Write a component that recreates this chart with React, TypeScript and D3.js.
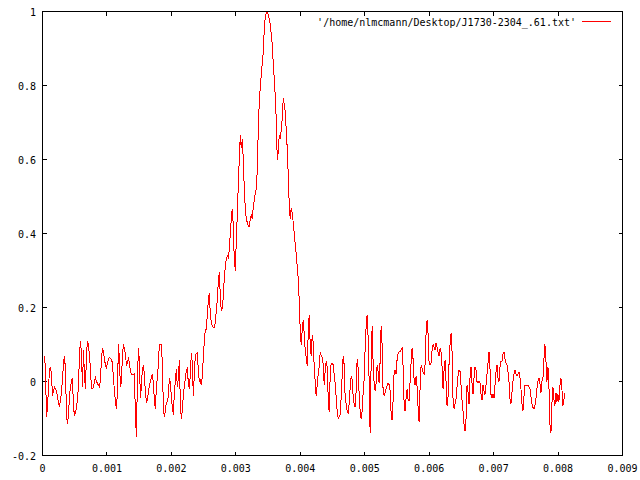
import React from "react";
import * as d3 from "d3";

// Pulse profile values (normalised intensity), one per phase bin
const profile: number[] = [
  0.07, 0.03, -0.097, -0.07, -0.016, 0.03, 0.04, 0.02, -0.04, -0.025,
  -0.015, -0.02, -0.025, -0.04, -0.06, -0.065, -0.05, -0.03, 0.007, 0.048,
  0.07, 0.03, -0.087, -0.116, -0.09, -0.04, -0.016, 0.0, 0.01, -0.07,
  -0.09, -0.085, -0.07, -0.05, -0.01, 0.07, 0.11, 0.075, -0.016, 0.085,
  0.015, -0.02, 0.07, 0.11, 0.097, 0.07, 0.035, -0.02, -0.02, -0.015,
  0.0, 0.01, 0.0, -0.005, -0.01, -0.015, 0.005, 0.06, 0.09, 0.08,
  0.06, 0.045, 0.035, 0.05, 0.06, 0.065, 0.063, 0.06, 0.05, 0.01,
  -0.025, -0.055, -0.075, -0.03, 0.1, 0.06, -0.015, 0.0, 0.07, 0.1,
  0.09, 0.075, 0.045, 0.05, 0.065, 0.05, 0.03, 0.02, 0.02, 0.018,
  0.02, -0.09, -0.15, 0.0, 0.09, 0.055, -0.045, -0.015, 0.035, 0.04,
  0.02, -0.03, -0.055, -0.05, -0.03, -0.01, 0.0, 0.01, 0.02, -0.005,
  -0.05, -0.075, -0.015, 0.01, 0.048, 0.1, 0.1, 0.1, 0.048, -0.07,
  -0.097, -0.08, -0.056, -0.055, -0.04, 0.01, -0.003, -0.04, -0.07, -0.09,
  -0.03, 0.0, 0.035, -0.015, 0.01, 0.057, -0.06, -0.1, -0.08, -0.035,
  -0.015, 0.01, 0.03, 0.035, -0.005, -0.02, 0.02, 0.078, 0.05, -0.04,
  0.02, 0.07, 0.075, 0.078, 0.03, 0.0, 0.003, -0.01, 0.015, 0.065,
  0.11, 0.14, 0.14, 0.18, 0.22, 0.24, 0.18, 0.16, 0.15, 0.145,
  0.145, 0.16, 0.19, 0.22, 0.27, 0.295, 0.23, 0.19, 0.2, 0.23,
  0.28, 0.31, 0.33, 0.34, 0.335, 0.355, 0.4, 0.44, 0.467, 0.42,
  0.33, 0.3, 0.38, 0.45, 0.53, 0.6, 0.665, 0.63, 0.655, 0.6,
  0.52, 0.47, 0.44, 0.43, 0.42, 0.42, 0.44, 0.45, 0.44, 0.47,
  0.49, 0.51, 0.52, 0.57, 0.68, 0.755, 0.795, 0.83, 0.86, 0.89,
  0.95, 0.985, 0.995, 1.0, 0.99, 0.98, 0.965, 0.94, 0.91, 0.86,
  0.82, 0.77, 0.71, 0.6, 0.62, 0.665, 0.66, 0.68, 0.71, 0.765,
  0.75, 0.73, 0.68, 0.63, 0.56, 0.48, 0.44, 0.47, 0.455, 0.43,
  0.4, 0.37, 0.345, 0.31, 0.28, 0.22, 0.14, 0.1, 0.14, 0.165,
  0.13, 0.085, 0.065, 0.043, 0.13, 0.18, 0.1, 0.07, 0.125, 0.105,
  0.04, 0.0, -0.04, -0.01, 0.02, 0.04, 0.08, 0.07, 0.065, 0.048,
  -0.01, 0.03, 0.055, 0.04, -0.043, -0.083, 0.015, 0.05, 0.05, 0.045,
  0.02, -0.005, -0.043, -0.08, -0.1, -0.095, -0.09, -0.043, 0.015, 0.07,
  0.045, -0.045, -0.06, -0.08, -0.085, -0.06, -0.015, 0.015, 0.005, -0.04,
  -0.06, -0.07, -0.025, 0.06, 0.035, -0.035, -0.08, -0.1, -0.08, -0.03,
  0.005, 0.09, 0.15, 0.18, 0.12, 0.0, -0.14, 0.05, 0.15, 0.05,
  -0.005, -0.025, -0.005, 0.045, 0.025, -0.005, 0.055, 0.15, 0.1, -0.03,
  -0.038, -0.03, -0.02, -0.01, -0.005, -0.008, -0.025, -0.087, -0.105, -0.05,
  0.025, 0.03, 0.02, 0.06, 0.075, 0.08, 0.08, 0.085, 0.092, 0.04,
  -0.06, -0.08, -0.045, -0.02, -0.05, -0.05, 0.0, 0.05, 0.09, 0.06,
  0.005, -0.01, 0.015, -0.015, -0.07, -0.11, -0.015, 0.045, 0.035, 0.025,
  0.02, 0.045, 0.13, 0.165, 0.13, 0.05, 0.045, 0.05, 0.085, 0.1,
  0.092, 0.085, 0.105, 0.092, 0.08, 0.07, 0.09, 0.08, 0.04, -0.02,
  0.03, 0.057, 0.0, -0.065, -0.04, 0.05, 0.1, 0.13, 0.08, -0.046,
  -0.073, -0.06, -0.046, -0.015, 0.015, 0.03, 0.027, -0.01, -0.05, -0.08,
  -0.115, -0.135, -0.1, -0.01, -0.03, -0.06, 0.01, 0.04, -0.005, -0.035,
  0.01, 0.04, 0.03, 0.0, -0.005, 0.0, -0.005, -0.035, -0.05, -0.01,
  -0.025, -0.035, -0.01, 0.02, 0.05, 0.08, 0.035, -0.035, -0.045, -0.035,
  -0.045, -0.01, 0.025, 0.045, 0.01, 0.0, 0.04, 0.055, 0.055, 0.075,
  0.08, 0.06, 0.05, 0.045, 0.025, 0.0, -0.046, -0.06, -0.03, 0.0,
  0.02, 0.03, 0.02, 0.015, 0.02, 0.025, 0.01, -0.02, -0.06, -0.08,
  -0.04, -0.01, -0.01, -0.01, -0.01, -0.015, -0.02, -0.04, -0.06, -0.07,
  -0.075, -0.065, -0.045, -0.02, 0.0, 0.01, -0.005, -0.03, 0.0, 0.01,
  0.06, 0.1, 0.055, 0.0, 0.04, -0.01, -0.115, -0.14, -0.06, -0.015,
  -0.05, -0.065, -0.03, -0.055, -0.035, -0.055, -0.01, 0.01, -0.02, -0.065,
  -0.05, -0.03,
];

// Time of first bin and bin width (seconds)
const binStart = 0.000031;
const binStep = 0.0000155;

const xTicks = [0, 0.001, 0.002, 0.003, 0.004, 0.005, 0.006, 0.007, 0.008, 0.009];
const xTickLabels = ["0", "0.001", "0.002", "0.003", "0.004", "0.005", "0.006", "0.007", "0.008", "0.009"];
const yTicks = [-0.2, 0, 0.2, 0.4, 0.6, 0.8, 1];
const yTickLabels = ["-0.2", "0", "0.2", "0.4", "0.6", "0.8", "1"];
const legendLabel = "'/home/nlmcmann/Desktop/J1730-2304_.61.txt'";

export default function App() {
  const W = 640;
  const H = 480;
  const left = 42.5;
  const right = 622.5;
  const top = 11.5;
  const bottom = 455.5;
  const tick = 4;
  const font = "'DejaVu Sans Mono', 'Liberation Mono', monospace";

  const x = d3.scaleLinear().domain([0, 0.009]).range([left, right]);
  const y = d3.scaleLinear().domain([-0.2, 1]).range([bottom, top]);

  const line = d3
    .line<number>()
    .x((_, i) => x(binStart + i * binStep))
    .y((d) => y(d));

  return (
    <svg
      width={W}
      height={H}
      style={{ position: "absolute", left: 0, top: 0, background: "#fff" }}
    >
      <rect x={0} y={0} width={W} height={H} fill="#fff" />
      {/* Ticks */}
      <g stroke="#000" strokeWidth={1} shapeRendering="crispEdges">
        {xTicks.map((t, i) => (
          <g key={"xt" + i}>
            <line x1={x(t)} x2={x(t)} y1={bottom} y2={bottom - tick} />
            <line x1={x(t)} x2={x(t)} y1={top} y2={top + tick} />
          </g>
        ))}
        {yTicks.map((t, i) => (
          <g key={"yt" + i}>
            <line x1={left} x2={left + tick} y1={y(t)} y2={y(t)} />
            <line x1={right} x2={right - tick} y1={y(t)} y2={y(t)} />
          </g>
        ))}
      </g>
      {/* Tick labels */}
      <g fontFamily={font} fontSize={10} fill="#000">
        {xTicks.map((t, i) => (
          <text key={"xl" + i} x={x(t)} y={472} textAnchor="middle">
            {xTickLabels[i]}
          </text>
        ))}
        {yTicks.map((t, i) => (
          <text key={"yl" + i} x={36} y={y(t) + 4} textAnchor="end">
            {yTickLabels[i]}
          </text>
        ))}
      </g>
      {/* Data */}
      <path
        d={line(profile) || ""}
        fill="none"
        stroke="#ff0000"
        strokeWidth={1}
        shapeRendering="crispEdges"
      />
      {/* Legend */}
      <text
        x={576}
        y={26}
        textAnchor="end"
        fontFamily={font}
        fontSize={10}
        fill="#000"
      >
        {legendLabel}
      </text>
      <line
        x1={582}
        x2={611}
        y1={21.5}
        y2={21.5}
        stroke="#ff0000"
        strokeWidth={1}
        shapeRendering="crispEdges"
      />
      {/* Frame */}
      <rect
        x={left}
        y={top}
        width={right - left}
        height={bottom - top}
        fill="none"
        stroke="#000"
        strokeWidth={1}
        shapeRendering="crispEdges"
      />
    </svg>
  );
}
